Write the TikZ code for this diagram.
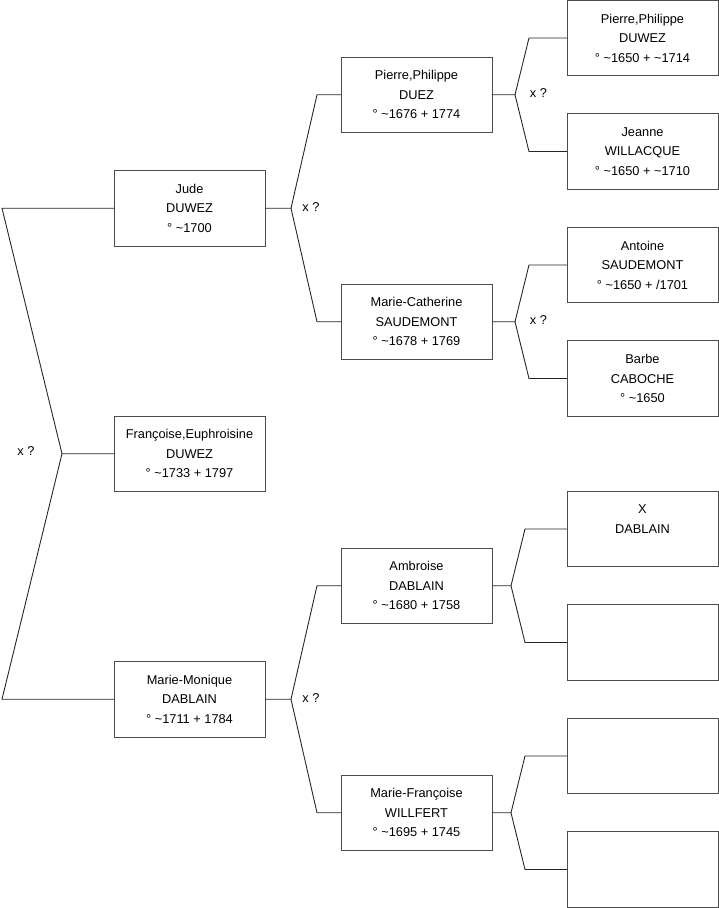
\documentclass[tikz,border=0pt]{standalone}
\usepackage{fontspec}
\setmainfont{Liberation Sans}
\usetikzlibrary{positioning}
\newcommand{\circa}{\textasciitilde}

\begin{document}
\begin{tikzpicture}[x=1pt, y=-1pt, font=\fontsize{12.8}{19.5}\selectfont,
  pbox/.style={draw=black!70, line width=0.9pt, align=center, minimum width=151pt, minimum height=75.5pt, inner sep=0pt, outer sep=0pt},
  link/.style={draw=black!85, line width=0.9pt}]
\useasboundingbox (0,0) rectangle (719,908);
% child and parents
\node[pbox] (fr) at (189.5,453.75) {Françoise,Euphroisine\\DUWEZ\\° \circa1733 + 1797};
\node[pbox] (jude) at (189.5,208.25) {Jude\\DUWEZ\\° \circa1700};
\node[pbox] (mm) at (189.5,699.25) {Marie-Monique\\DABLAIN\\° \circa1711 + 1784};
% grandparents
\node[pbox] (pp) at (416.5,94.75) {Pierre,Philippe\\DUEZ\\° \circa1676 + 1774};
\node[pbox] (mc) at (416.5,321.75) {Marie-Catherine\\SAUDEMONT\\° \circa1678 + 1769};
\node[pbox] (amb) at (416.5,585.75) {Ambroise\\DABLAIN\\° \circa1680 + 1758};
\node[pbox] (mf) at (416.5,812.75) {Marie-Françoise\\WILLFERT\\° \circa1695 + 1745};
% great-grandparents
\node[pbox] (ppd) at (642.5,38) {Pierre,Philippe\\DUWEZ\\° \circa1650 + \circa1714};
\node[pbox, below=38pt of ppd] (jw) {Jeanne\\WILLACQUE\\° \circa1650 + \circa1710};
\node[pbox, below=38pt of jw] (as) {Antoine\\SAUDEMONT\\° \circa1650 + /1701};
\node[pbox, below=38pt of as] (bc) {Barbe\\CABOCHE\\° \circa1650};
\node[pbox, below=75pt of bc] (xd) {X\\DABLAIN\\\mbox{}};
\node[pbox, below=38pt of xd] (e1) {};
\node[pbox, below=38pt of e1] (e2) {};
\node[pbox, below=38pt of e2] (e3) {};
% forks
\draw[link] (fr.west) -- ++(-52pt,0) coordinate (jr) -- ([xshift=-112pt]jude.west) -- (jude.west);
\draw[link] (jr) -- ([xshift=-112pt]mm.west) -- (mm.west);
\foreach \c/\a/\b/\j/\k in {jude/pp/mc/26pt/24pt, mm/amb/mf/26pt/24pt, pp/ppd/jw/23pt/38pt, mc/as/bc/23pt/38pt, amb/xd/e1/19pt/42pt, mf/e2/e3/19pt/42pt}{
  \draw[link] (\c.east) -- ++(\j,0) coordinate (jn) -- ([xshift=-\k]\a.west) -- (\a.west);
  \draw[link] (jn) -- ([xshift=-\k]\b.west) -- (\b.west);
}
% marriages
\node (xr) at (26,451) {x ?};
\node (xj) at (311,207.5) {x ?};
\node (xm) at (311,698.5) {x ?};
\node (xp) at (538.5,93.5) {x ?};
\node (xc) at (538.5,320) {x ?};
\end{tikzpicture}
\end{document}
